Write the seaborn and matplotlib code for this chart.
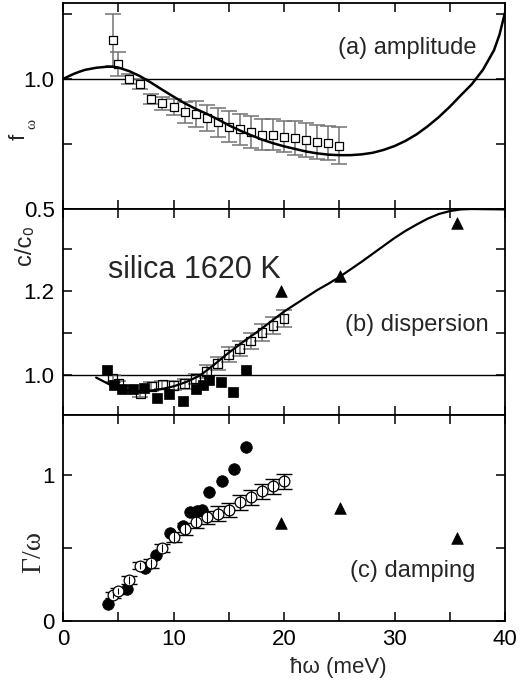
import matplotlib
matplotlib.use("Agg")
import matplotlib.pyplot as plt
from matplotlib.ticker import MultipleLocator
import seaborn as sns
import numpy as np
import pandas as pd

# ---------------- data ----------------
# (a) amplitude
amp_x = [4.5, 5, 6, 7, 8, 9, 10, 11, 12, 13, 14, 15, 16, 17, 18, 19, 20, 21, 22, 23, 24, 25]
amp_y = [1.15, 1.057, 1.0, 0.98, 0.923, 0.906, 0.891, 0.872, 0.865, 0.849, 0.833, 0.817,
         0.806, 0.796, 0.786, 0.786, 0.778, 0.772, 0.765, 0.759, 0.753, 0.744]
amp_err = [0.1, 0.045, 0.02, 0.02, 0.02, 0.025, 0.03, 0.04, 0.05, 0.05, 0.055, 0.06,
           0.06, 0.06, 0.06, 0.06, 0.06, 0.065, 0.065, 0.065, 0.065, 0.07]
amp_curve_x = [0, 1, 1.5, 2, 2.75, 3, 4, 4.5, 5, 6, 7, 8, 9, 10, 11, 12, 13, 14, 15, 16, 17, 18,
               19, 20, 21, 22, 23, 24, 25, 26, 27, 28, 29, 30, 31, 32, 33, 34, 35, 36, 37,
               38, 39, 39.5, 40]
amp_curve_y = [1.0, 1.02, 1.028, 1.035, 1.041, 1.043, 1.047, 1.047, 1.044, 1.03, 1.01, 0.985,
               0.958, 0.932, 0.907, 0.885, 0.866, 0.845, 0.822, 0.802, 0.784, 0.767, 0.753,
               0.741, 0.731, 0.721, 0.714, 0.709, 0.707, 0.707, 0.71, 0.716, 0.727, 0.742,
               0.762, 0.787, 0.818, 0.853, 0.893, 0.937, 0.98, 1.035, 1.11, 1.17, 1.255]

# (b) dispersion
disp_open_x = [4.5, 5, 6, 7, 8, 9, 10, 11, 12, 13, 14, 15, 16, 17, 18, 19, 20]
disp_open_y = [0.99, 0.978, 0.966, 0.954, 0.972, 0.976, 0.974, 0.978, 0.99, 1.007, 1.027,
               1.047, 1.063, 1.08, 1.1, 1.116, 1.133]
disp_open_err = [0.008, 0.008, 0.008, 0.008, 0.01, 0.01, 0.01, 0.012, 0.012, 0.015, 0.015,
                 0.018, 0.018, 0.018, 0.02, 0.02, 0.02]
disp_fill_x = [4.0, 4.6, 5.3, 6.3, 7.3, 8.5, 9.6, 10.9, 12.0, 12.7, 13.2, 14.3, 15.4, 16.6]
disp_fill_y = [1.01, 0.975, 0.967, 0.965, 0.968, 0.945, 0.953, 0.937, 0.965, 0.975, 0.988,
               0.983, 0.958, 1.01]
disp_tri_x = [19.7, 25.1, 35.7]
disp_tri_y = [1.198, 1.234, 1.36]
disp_curve_x = [3.0, 4.25, 5.76, 6.97, 8.78, 10.0, 11.2, 12.4, 13.6, 14.8, 16.3, 17.8, 19.0,
                20.0, 21, 22, 23, 24, 25, 26, 27, 28, 29, 30, 31, 32, 33, 34, 35, 36, 37, 40]
disp_curve_y = [0.993, 0.976, 0.963, 0.959, 0.965, 0.972, 0.983, 0.998, 1.022, 1.048, 1.078,
                1.106, 1.13, 1.15, 1.167, 1.184, 1.201, 1.216, 1.232, 1.25, 1.268, 1.287,
                1.306, 1.325, 1.342, 1.357, 1.371, 1.382, 1.389, 1.393, 1.394, 1.393]

# (c) damping
damp_open_x = [4.5, 5, 6, 7, 8, 9, 10, 11, 12, 13, 14, 15, 16, 17, 18, 19, 20]
damp_open_y = [0.175, 0.205, 0.28, 0.378, 0.395, 0.5, 0.577, 0.627, 0.676, 0.71, 0.735,
               0.758, 0.812, 0.846, 0.887, 0.921, 0.955]
damp_open_err = [0.02, 0.02, 0.025, 0.025, 0.03, 0.03, 0.035, 0.04, 0.04, 0.045, 0.05,
                 0.05, 0.05, 0.05, 0.05, 0.05, 0.05]
damp_fill_x = [4.05, 5.75, 7.4, 8.4, 9.65, 10.85, 11.5, 12.1, 12.6, 13.2, 14.4, 15.5, 16.6]
damp_fill_y = [0.118, 0.22, 0.36, 0.45, 0.6, 0.65, 0.745, 0.75, 0.762, 0.88, 0.955, 1.04, 1.19]
damp_tri_x = [19.7, 25.1, 35.7]
damp_tri_y = [0.672, 0.774, 0.57]

# ---------------- style ----------------
sns.set_theme(style="ticks")
plt.rcParams["font.family"] = ["Liberation Sans", "DejaVu Sans"]

W, H = 528, 684
fig = plt.figure(figsize=(W / 100, H / 100), dpi=100)
gs = fig.add_gridspec(3, 1, left=63 / W, right=505 / W, top=1 - 3 / H, bottom=1 - 621 / H,
                      hspace=0)
axa = fig.add_subplot(gs[0])
axb = fig.add_subplot(gs[1], sharex=axa)
axc = fig.add_subplot(gs[2], sharex=axa)

ecol = "0.45"


def style(ax, ymaj, ymin):
    ax.set_xlim(0, 40)
    ax.xaxis.set_major_locator(MultipleLocator(10))
    ax.xaxis.set_minor_locator(MultipleLocator(5))
    ax.yaxis.set_major_locator(MultipleLocator(ymaj))
    ax.yaxis.set_minor_locator(MultipleLocator(ymin))
    ax.tick_params(which="both", direction="in", top=True, right=True, width=1.1,
                   colors="black", labelsize=16, pad=6)
    ax.tick_params(which="major", length=6.5)
    ax.tick_params(which="minor", length=6.5)
    for s in ax.spines.values():
        s.set_linewidth(1.3)
        s.set_color("black")
    ax.set_xlabel("")
    ax.set_ylabel("")


# ---- (a) ----
axa.axhline(1.0, color="black", lw=1.0, zorder=1)
axa.errorbar(amp_x, amp_y, yerr=amp_err, fmt="none", ecolor=ecol, elinewidth=1.1,
             capsize=6, capthick=1.1, zorder=2)
sns.lineplot(x=amp_curve_x, y=amp_curve_y, sort=False, estimator=None, color="black",
             lw=1.8, ax=axa, zorder=4)
sns.scatterplot(x=amp_x, y=amp_y, marker="s", s=40, facecolor="white", edgecolor="black",
                linewidth=0.9, ax=axa, zorder=3)
axa.set_ylim(0.5, 1.292)
style(axa, 0.5, 0.25)
axa.text(37.4, 1.119, "(a) amplitude", ha="right", va="center", fontsize=17)

# ---- (b) ----
axb.axhline(1.0, color="black", lw=1.0, zorder=1)
axb.errorbar(disp_open_x, disp_open_y, yerr=disp_open_err, fmt="none", ecolor=ecol,
             elinewidth=1.1, capsize=6, capthick=1.1, zorder=2)
sns.lineplot(x=disp_curve_x, y=disp_curve_y, sort=False, estimator=None, color="black",
             lw=1.6, ax=axb, zorder=4)
sns.scatterplot(x=disp_open_x, y=disp_open_y, marker="s", s=40, facecolor="none",
                edgecolor="black", linewidth=0.9, ax=axb, zorder=3)
sns.scatterplot(x=disp_fill_x, y=disp_fill_y, marker="s", s=55, color="black",
                edgecolor="black", linewidth=0.5, ax=axb, zorder=3)
sns.scatterplot(x=disp_tri_x, y=disp_tri_y, marker="^", s=70, color="black",
                edgecolor="black", linewidth=0.5, ax=axb, zorder=3)
axb.set_ylim(0.904, 1.394)
style(axb, 0.2, 0.1)
axb.set_yticks([1.0, 1.2])
axb.text(4.07, 1.25, "silica 1620 K", ha="left", va="center", fontsize=22)
axb.text(38.5, 1.119, "(b) dispersion", ha="right", va="center", fontsize=17)

# ---- (c) ----
axc.errorbar(damp_open_x, damp_open_y, yerr=damp_open_err, fmt="none", ecolor="black",
             elinewidth=1.0, capsize=6, capthick=1.0, zorder=2)
sns.scatterplot(x=damp_fill_x, y=damp_fill_y, marker="o", s=70, color="black",
                edgecolor="black", linewidth=0.5, ax=axc, zorder=3)
sns.scatterplot(x=damp_open_x, y=damp_open_y, marker="o", s=60, facecolor="white",
                edgecolor="black", linewidth=0.9, ax=axc, zorder=3.5)
axc.errorbar(damp_open_x, damp_open_y, yerr=damp_open_err, fmt="none", ecolor="black",
             elinewidth=0.8, capsize=0, zorder=4)
sns.scatterplot(x=damp_tri_x, y=damp_tri_y, marker="^", s=70, color="black",
                edgecolor="black", linewidth=0.5, ax=axc, zorder=3)
axc.set_ylim(0, 1.409)
style(axc, 1.0, 0.5)
axc.text(37.3, 0.344, "(c) damping", ha="right", va="center", fontsize=17)

for ax in (axa, axb):
    ax.tick_params(labelbottom=False)
axc.set_xticks([0, 10, 20, 30, 40])

# ---- axis labels ----
fig.text(19 / W, 1 - 137 / H, "f", rotation=90, ha="center", va="center", fontsize=16)
fig.text(32 / W, 1 - 124 / H, "ω", rotation=90, ha="center", va="center", fontsize=11,
         family=["Liberation Serif", "DejaVu Serif"])
fig.text(25 / W, 1 - 245 / H, "c/c₀", rotation=90, ha="center", va="center", fontsize=17,
         family=["Liberation Sans", "DejaVu Sans"])
fig.text(34 / W, 1 - 552 / H, "Γ/ω", rotation=90, ha="center", va="center", fontsize=20,
         family=["Liberation Serif", "DejaVu Serif"])
fig.text(338 / W, 1 - 668 / H, "ħω (meV)", ha="center", va="center", fontsize=16)

fig.savefig("out.png", dpi=100, facecolor="white")
